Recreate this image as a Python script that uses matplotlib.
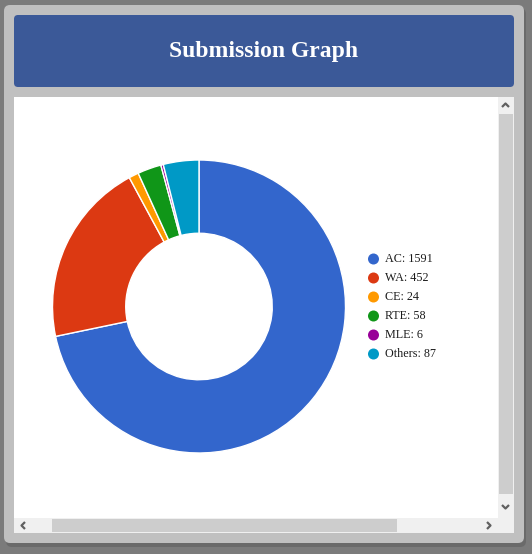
import matplotlib
matplotlib.use("Agg")
import matplotlib.pyplot as plt
from matplotlib.patches import FancyBboxPatch, Rectangle, Circle

categories = ["AC", "WA", "CE", "RTE", "MLE", "Others"]
values = [1591, 452, 24, 58, 6, 87]
colors = ["#3366cc", "#dc3912", "#ff9900", "#109618", "#990099", "#0099c6"]
title = "Submission Graph"

W, H = 532, 554
fig = plt.figure(figsize=(W / 100, H / 100), dpi=100)
fig.patch.set_facecolor("#7b7b7b")

bg = fig.add_axes([0, 0, 1, 1])
bg.set_xlim(0, W)
bg.set_ylim(H, 0)
bg.axis("off")

# shadow + panel
bg.add_patch(FancyBboxPatch((6, 8), 520, 539, boxstyle="round,pad=0,rounding_size=6",
                            fc="#6a6a6a", ec="none"))
bg.add_patch(FancyBboxPatch((4, 5), 520, 538, boxstyle="round,pad=0,rounding_size=6",
                            fc="#c0c0c0", ec="none"))
# header
bg.add_patch(FancyBboxPatch((14, 15), 500, 72, boxstyle="round,pad=0,rounding_size=4",
                            fc="#3b5998", ec="none"))
bg.text(264, 52, title, color="white", fontsize=17, fontweight="bold",
        family="Liberation Serif", ha="center", va="center")
# content area
bg.add_patch(Rectangle((14, 97), 484, 421, fc="white", ec="none"))
# vertical scrollbar
bg.add_patch(Rectangle((498, 97), 16, 436, fc="#f0f0f0", ec="none"))
bg.add_patch(Rectangle((499, 114), 14, 380, fc="#cdcdcd", ec="none"))
# horizontal scrollbar
bg.add_patch(Rectangle((14, 518), 484, 15, fc="#f0f0f0", ec="none"))
bg.add_patch(Rectangle((52, 519), 345, 13, fc="#cdcdcd", ec="none"))
arrow_kw = dict(color="#606060", lw=1.6, solid_capstyle="butt")
bg.plot([502, 505.5, 509], [107, 103.5, 107], **arrow_kw)
bg.plot([502, 505.5, 509], [505, 508.5, 505], **arrow_kw)
bg.plot([25, 21.5, 25], [522, 525.5, 529], **arrow_kw)
bg.plot([487, 490.5, 487], [522, 525.5, 529], **arrow_kw)

# donut
cx, cy, r = 199, 306.5, 146.5
pax = fig.add_axes([(cx - r) / W, (H - cy - r) / H, 2 * r / W, 2 * r / H])
pax.pie(values, colors=colors, startangle=90, counterclock=False, radius=1,
        wedgeprops=dict(width=0.5, edgecolor="white", linewidth=1))
pax.set_xlim(-1, 1)
pax.set_ylim(-1, 1)
pax.set_aspect("equal")
pax.axis("off")

# legend
ly0, dy = 259, 19
for i, (c, v, col) in enumerate(zip(categories, values, colors)):
    y = ly0 + i * dy
    bg.add_patch(Circle((373.5, y), 5.5, fc=col, ec="none"))
    bg.text(385, y, f"{c}: {v}", fontsize=8.7, family="Liberation Serif",
            color="#1a1a1a", ha="left", va="center")

fig.savefig("out.png", dpi=100, facecolor=fig.get_facecolor())
